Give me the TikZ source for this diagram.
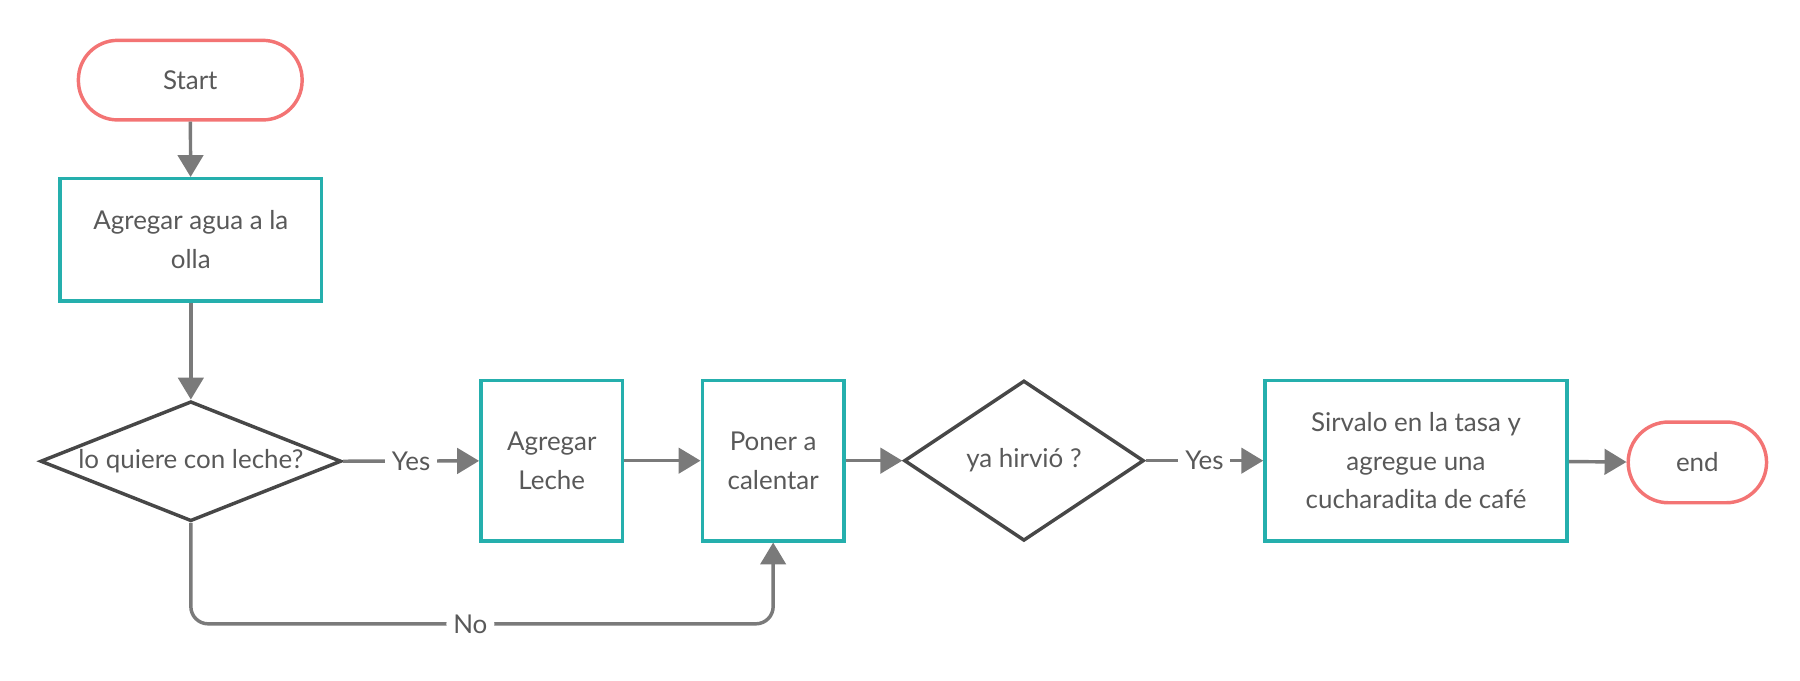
\documentclass[tikz,border=0pt]{standalone}
\usepackage{fontspec}
\setmainfont{Lato}
\usetikzlibrary{shapes.geometric,arrows.meta}

\definecolor{pillred}{HTML}{F37474}
\definecolor{boxteal}{HTML}{25AFAD}
\definecolor{diagray}{HTML}{474747}
\definecolor{linegray}{HTML}{7A7A7A}
\definecolor{txtgray}{HTML}{595959}

\begin{document}
\begin{tikzpicture}[x=1pt, y=1pt,
    every node/.style={font=\fontsize{22.5}{33.5}\selectfont, text=txtgray, align=center},
    terminal/.style={draw=pillred, line width=3pt, rounded corners=34pt, minimum height=69pt},
    process/.style={draw=boxteal, line width=3pt, inner sep=0pt},
    decision/.style={draw=diagray, line width=3pt, diamond, inner sep=0pt},
    conn/.style={draw=linegray, line width=3pt, -{Triangle[width=22pt, length=19pt]}},
    lbl/.style={fill=white, inner sep=6pt}]

  \useasboundingbox (0, 0) rectangle (1561, 590);

  \node[terminal, minimum width=194pt] (start) at (165, 520.5) {Start};
  \node[process, minimum width=227pt, minimum height=106pt] (agua) at (165.5, 382) {Agregar agua a la\\olla};
  \node[decision, minimum width=261pt, minimum height=104pt] (leche) at (165.5, 190) {\makebox[0pt]{lo quiere con leche?}};
  \node[process, minimum width=123pt, minimum height=139pt] (agregar) at (478.5, 190.5) {Agregar\\Leche};
  \node[process, minimum width=123pt, minimum height=139pt] (calentar) at (670.5, 190.5) {Poner a\\calentar};
  \node[decision, minimum width=208pt, minimum height=139pt] (hirvio) at (888, 190.5) {\makebox[0pt]{ya hirvió ?}};
  \node[process, minimum width=262pt, minimum height=139pt] (servir) at (1228, 190.5) {Sirvalo en la tasa y\\agregue una\\cucharadita de café};
  \node[terminal, minimum width=120pt, minimum height=70pt, rounded corners=35pt] (end) at (1472, 189) {end};

  \coordinate (nocorner) at (165.5, 49);

  \draw[conn] (start) -- (agua);
  \draw[conn] (agua) -- (leche);
  \draw[conn] (leche.east) -- node[lbl] {Yes} (agregar);
  \draw[conn] (agregar) -- (calentar);
  \draw[conn] (calentar) -- (hirvio.west);
  \draw[conn] (hirvio.east) -- node[lbl] {Yes} (servir);
  \draw[conn] (servir) -- (end);
  \draw[conn, rounded corners=15pt] (leche.south) -- (nocorner) -| node[lbl, pos=0.24] {No} (calentar.south);

\end{tikzpicture}
\end{document}
